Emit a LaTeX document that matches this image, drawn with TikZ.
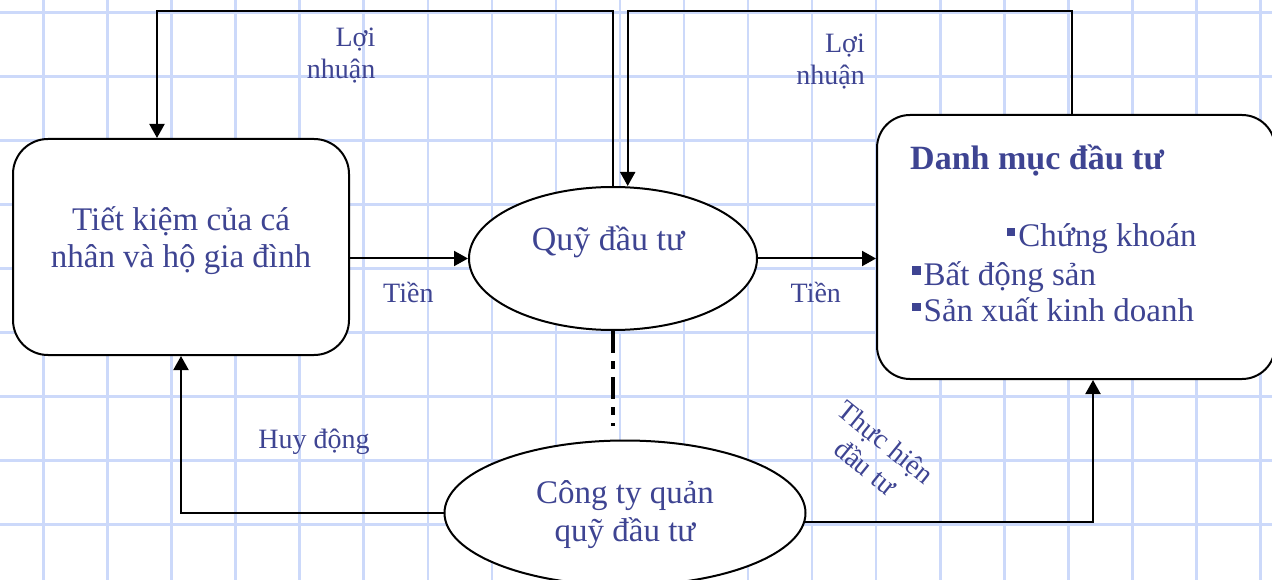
\documentclass[tikz,border=0pt]{standalone}
\usepackage{fontspec}
\setmainfont{Liberation Serif}
\usetikzlibrary{arrows.meta,shapes.geometric}
\definecolor{ink}{RGB}{62,68,146}
\definecolor{gridblue}{RGB}{204,217,250}
% small square bullet in front of list items
\newcommand\sqbullet{\rule[10.5pt]{8.5pt}{8.5pt}\hspace{3pt}}
\begin{document}
\begin{tikzpicture}[x=1pt,y=-1pt,
  every node/.style={inner sep=0pt},
  link/.style={draw=black,line width=2pt},
  arr/.style={link,-{Triangle[length=14pt,width=15pt]}},
  box/.style={rectangle,draw=black,line width=2pt,fill=white,rounded corners=35pt},
  oval/.style={ellipse,draw=black,line width=2pt,fill=white},
  big/.style={text=ink,font=\fontsize{33pt}{37pt}\selectfont,align=center},
  small/.style={text=ink,font=\fontsize{28pt}{32pt}\selectfont,align=right},
  gridline/.style={draw=gridblue,line width=2.6pt},
]
\fill[white] (0,0) rectangle (1272,580);
\useasboundingbox (0,0) rectangle (1272,580);

% squared paper
\foreach \i in {0,...,19}
  \draw[gridline] ({43.5+64.05*\i},0) -- ({43.5+64.05*\i},580);
\foreach \j in {0,...,8}
  \draw[gridline] (0,{12.7+64*\j}) -- (1272,{12.7+64*\j});

% households
\node[box,minimum width=336pt,minimum height=216pt] (sav) at (181,247) {};
\node[big] (savtxt) at (181,241) {Tiết kiệm của cá\\nhân và hộ gia đình};

% fund
\node[oval,minimum width=288pt,minimum height=143pt] (fund) at (613,258.5) {};
\node[big,font=\fontsize{34pt}{38pt}\selectfont,anchor=base] (fundtxt) at (608.2,250.7) {Quỹ đầu tư};

% portfolio
\node[box,rounded corners=33pt,minimum width=398pt,minimum height=264pt] (port) at (1076,247) {};
\node[text=ink,font=\bfseries\fontsize{34pt}{38pt}\selectfont,anchor=base west] (head) at (910,170) {Danh mục đầu tư};
\node[big,anchor=base west] (li1) at (1006.7,246.7) {\sqbullet Chứng khoán};
\node[big,anchor=base west] (li2) at (912,285) {\sqbullet Bất động sản};
\node[big,anchor=base west] (li3) at (912,321.7) {\sqbullet Sản xuất kinh doanh};

% management company
\node[oval,minimum width=361pt,minimum height=145pt] (mgmt) at (625,513) {};
\node[big,font=\fontsize{33pt}{38pt}\selectfont] (mgmttxt) at (625,515) {Công ty quản\\quỹ đầu tư};

% flows
\draw[arr] (fund.north) -- ++(0,-175) -| ([xshift=-24pt]sav.north);
\draw[arr] ([xshift=-4pt]port.north) -- ++(0,-102.5) -| ([xshift=14.7pt]fund.north);
\draw[arr] (sav.east |- fund.west) -- (fund.west);
\draw[arr] (fund.east) -- (fund.east -| port.west);
\draw[black,line width=4pt,dash pattern=on 22pt off 8pt on 8pt off 8pt] (fund.south) -- ++(0,95);
\draw[arr] (mgmt.west) -| (sav.south);
\draw[arr] (mgmt.-3.2) -| ([xshift=17pt]port.south);

% labels
\node[small,anchor=east] (lbl1) at (375.5,55.5) {Lợi\\nhuận};
\node[small,anchor=east] (lbl2) at (865,62) {Lợi\\nhuận};
\node[small,anchor=base] (lbl3) at (408.4,302.3) {Tiền};
\node[small,anchor=base] (lbl4) at (815.8,302.3) {Tiền};
\node[small,anchor=base] (lbl5) at (314,448.3) {Huy động};
\node[small,align=center,rotate=-39] (lbl6) at (875.7,454.6) {Thực hiện\\đầu tư};
\end{tikzpicture}
\end{document}
